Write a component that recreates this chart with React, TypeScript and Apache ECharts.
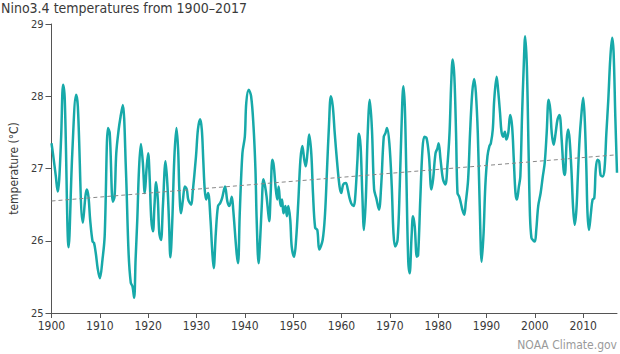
import React, { useEffect, useRef } from "react";
import * as echarts from "echarts";

const years = [
  1900.0, 1900.3, 1900.9, 1901.3, 1901.6, 1902.0, 1902.4, 1902.75, 1903.55, 1904.3,
  1905.1, 1905.45, 1906.5, 1907.3, 1907.65, 1908.0, 1908.5, 1908.8, 1909.2, 1909.55,
  1910.0, 1910.55, 1911.0, 1911.7, 1912.05, 1912.7, 1913.05, 1913.4, 1913.9, 1914.3,
  1914.75, 1915.4, 1915.95, 1916.4, 1916.75, 1917.1, 1917.4, 1917.75, 1918.1, 1918.5,
  1918.9, 1919.3, 1919.65, 1920.0, 1920.3, 1920.65, 1921.0, 1921.3, 1921.65, 1922.0,
  1922.3, 1922.65, 1923.05, 1923.6, 1924.0, 1924.3, 1924.6, 1925.0, 1925.4, 1925.85,
  1926.2, 1926.45, 1926.8, 1927.2, 1927.6, 1928.0, 1928.3, 1928.9, 1929.2, 1929.9,
  1930.3, 1930.75, 1931.1, 1931.4, 1931.7, 1932.0, 1932.4, 1932.9, 1933.2, 1933.55,
  1934.0, 1934.45, 1934.9, 1935.3, 1935.9, 1936.4, 1936.8, 1937.3, 1937.6, 1938.3,
  1938.6, 1938.95, 1939.5, 1940.0, 1940.3, 1940.8, 1941.3, 1941.8, 1942.2, 1942.45,
  1942.85, 1943.2, 1943.5, 1943.85, 1944.2, 1944.5, 1944.85, 1945.05, 1945.35, 1945.7,
  1946.0, 1946.35, 1946.7, 1947.0, 1947.4, 1947.7, 1948.0, 1948.4, 1948.7, 1949.0,
  1949.4, 1949.7, 1950.2, 1950.6, 1951.05, 1951.5, 1951.9, 1952.3, 1952.6, 1952.95,
  1953.3, 1953.75, 1954.1, 1954.55, 1955.0, 1955.4, 1956.1, 1956.6, 1957.0, 1957.4,
  1957.8, 1958.2, 1958.6, 1959.1, 1959.6, 1959.95, 1960.35, 1960.9, 1961.3, 1961.6,
  1962.0, 1962.5, 1962.8, 1963.3, 1963.6, 1963.95, 1964.3, 1964.65, 1965.05, 1965.4,
  1965.85, 1966.3, 1966.75, 1967.2, 1967.75, 1968.2, 1968.75, 1969.1, 1969.4, 1969.9,
  1970.4, 1970.75, 1971.1, 1971.6, 1972.05, 1972.4, 1972.8, 1973.1, 1973.4, 1973.8,
  1974.1, 1974.5, 1974.8, 1975.15, 1975.6, 1975.85, 1976.3, 1976.75, 1977.15, 1977.6,
  1978.1, 1978.6, 1978.95, 1979.45, 1979.85, 1980.1, 1980.5, 1981.0, 1981.5, 1981.9,
  1982.35, 1982.7, 1983.0, 1983.35, 1983.7, 1984.0, 1984.35, 1984.7, 1985.0, 1985.4,
  1985.7, 1986.2, 1986.6, 1987.05, 1987.45, 1987.8, 1988.2, 1988.6, 1989.0, 1989.4,
  1989.75, 1990.2, 1990.6, 1990.9, 1991.3, 1991.6, 1992.1, 1992.4, 1992.8, 1993.1,
  1993.45, 1993.8, 1994.1, 1994.5, 1994.9, 1995.3, 1995.65, 1996.0, 1996.3, 1996.7,
  1997.0, 1997.35, 1997.7, 1998.0, 1998.35, 1998.7, 1999.0, 1999.3, 1999.6, 2000.0,
  2000.3, 2000.7, 2001.2, 2001.65, 2002.05, 2002.45, 2002.85, 2003.2, 2003.5, 2003.9,
  2004.3, 2004.7, 2005.1, 2005.55, 2005.95, 2006.2, 2006.6, 2006.9, 2007.2, 2007.6,
  2007.9, 2008.25, 2008.6, 2008.9, 2009.25, 2009.6, 2010.0, 2010.3, 2010.65, 2010.9,
  2011.2, 2011.6, 2011.95, 2012.3, 2012.6, 2012.95, 2013.3, 2013.6, 2014.0, 2014.4,
  2014.8, 2015.2, 2015.6, 2016.0, 2016.3, 2016.65, 2017.0,
];

const temps = [
  27.35, 27.21, 26.89, 26.68, 26.85, 27.44, 28.16, 27.95, 25.91, 27.21,
  28.02, 27.86, 26.25, 26.71, 26.61, 26.29, 25.99, 25.97, 25.81, 25.62,
  25.48, 25.74, 26.06, 27.56, 27.49, 26.54, 26.61, 27.21, 27.54, 27.72,
  27.88, 26.98, 25.83, 25.42, 25.37, 25.21, 25.74, 26.29, 26.98, 27.34,
  27.08, 26.66, 26.98, 27.21, 26.89, 26.29, 26.13, 26.48, 26.81, 26.57,
  26.11, 26.01, 26.48, 27.10, 26.75, 26.29, 25.77, 26.29, 27.12, 27.56,
  27.26, 26.71, 26.38, 26.57, 26.75, 26.71, 26.57, 26.50, 26.66, 27.17,
  27.54, 27.68, 27.54, 27.12, 26.71, 26.57, 26.66, 26.29, 25.92, 25.62,
  26.11, 26.48, 26.52, 26.59, 26.75, 26.54, 26.48, 26.61, 26.43, 25.83,
  25.69, 26.38, 27.21, 27.44, 27.91, 28.09, 28.0, 27.58, 26.98, 26.29,
  25.69, 26.06, 26.48, 26.85, 26.75, 26.61, 26.38, 26.27, 26.66, 27.12,
  27.03, 26.75, 26.57, 26.75, 26.48, 26.57, 26.38, 26.48, 26.34, 26.48,
  26.29, 25.92, 25.78, 26.01, 26.52, 27.12, 27.31, 27.12, 27.03, 27.21,
  27.47, 27.21, 26.66, 26.18, 26.15, 25.88, 26.01, 26.38, 26.98, 27.58,
  28.0, 27.86, 27.49, 27.08, 26.75, 26.66, 26.78, 26.80, 26.71, 26.61,
  26.52, 26.48, 26.57, 27.12, 27.48, 27.31, 26.66, 26.15, 26.61, 27.44,
  27.95, 27.54, 26.71, 26.59, 26.43, 26.75, 27.44, 27.49, 27.56, 27.35,
  26.75, 26.11, 25.92, 26.01, 26.75, 27.54, 28.14, 27.86, 26.98, 25.74,
  25.55, 26.06, 26.34, 26.20, 25.78, 25.80, 26.57, 27.26, 27.44, 27.42,
  27.17, 26.71, 26.85, 27.21, 27.28, 27.35, 27.12, 26.85, 26.78, 27.03,
  27.49, 28.18, 28.51, 28.27, 27.49, 26.66, 26.61, 26.52, 26.43, 26.36,
  26.52, 26.85, 27.49, 28.05, 28.24, 28.05, 27.49, 26.48, 25.71, 26.11,
  26.75, 27.17, 27.31, 27.35, 27.54, 27.95, 28.27, 28.09, 27.77, 27.51,
  27.44, 27.51, 27.40, 27.49, 27.74, 27.58, 27.12, 26.66, 26.57, 26.75,
  26.89, 27.72, 28.41, 28.83, 28.41, 27.26, 26.34, 26.04, 26.01, 25.99,
  26.15, 26.48, 26.66, 26.89, 27.08, 27.49, 27.95, 27.81, 27.49, 27.33,
  27.49, 27.68, 27.74, 27.40, 26.98, 26.91, 27.40, 27.54, 27.40, 26.94,
  26.48, 26.22, 26.43, 26.89, 27.40, 27.72, 27.98, 27.72, 27.03, 26.38,
  26.15, 26.38, 26.57, 26.59, 26.98, 27.12, 27.10, 26.91, 26.89, 26.98,
  27.49, 27.95, 28.51, 28.81, 28.60, 27.72, 26.94,
];

const trendYears = [1900, 2017];
const trendTemps = [26.55, 27.19];

const titleText = "Nino3.4 temperatures from 1900\u20132017";
const yAxisName = "temperature (\u00b0C)";
const creditText = "NOAA Climate.gov";

const FONT = '"DejaVu Sans Condensed", "Open Sans", sans-serif';

export default function App() {
  const ref = useRef<HTMLDivElement>(null);

  useEffect(() => {
    document.body.style.margin = "0";
    if (!ref.current) return;
    const chart = echarts.init(ref.current, null, { renderer: "svg" });
    const lineData = years.map((y, i) => [y, temps[i]]);
    const trendData = trendYears.map((y, i) => [y, trendTemps[i]]);
    chart.setOption({
      animation: false,
      backgroundColor: "#ffffff",
      textStyle: { fontFamily: FONT },
      title: {
        text: titleText,
        left: 1,
        top: 1,
        padding: 0,
        textStyle: {
          fontFamily: FONT,
          fontSize: 14,
          fontWeight: "normal",
          color: "#3a3a3a",
        },
      },
      grid: {
        left: 37,
        right: 3,
        top: 24,
        bottom: 41,
        containLabel: false,
      },
      xAxis: {
        type: "value",
        min: 1900,
        max: 2017,
        interval: 10,
        axisLine: { show: true, lineStyle: { color: "#555", width: 1 } },
        axisTick: { show: true, length: 5, lineStyle: { color: "#555" } },
        axisLabel: {
          fontFamily: FONT,
          fontSize: 12,
          color: "#3a3a3a",
          margin: 7,
          showMaxLabel: false,
          formatter: (v: number) => String(v),
        },
        splitLine: { show: false },
      },
      yAxis: {
        type: "value",
        min: 25,
        max: 29,
        interval: 1,
        name: yAxisName,
        nameLocation: "middle",
        nameGap: 24,
        nameTextStyle: { fontFamily: FONT, fontSize: 12, color: "#3a3a3a" },
        axisLine: { show: true, lineStyle: { color: "#555", width: 1 } },
        axisTick: { show: true, length: 6, lineStyle: { color: "#555" } },
        axisLabel: {
          fontFamily: FONT,
          fontSize: 11,
          color: "#3a3a3a",
          margin: 8,
        },
        splitLine: { show: false },
      },
      graphic: [
        {
          type: "text",
          right: 3,
          bottom: 3,
          style: {
            text: creditText,
            fill: "#9a9a9a",
            font: `12px ${FONT}`,
          },
        },
      ],
      series: [
        {
          type: "line",
          data: lineData,
          smooth: 0.35,
          showSymbol: false,
          symbol: "none",
          lineStyle: { color: "#17a9a9", width: 2.5 },
          z: 2,
        },
        {
          type: "line",
          data: trendData,
          showSymbol: false,
          symbol: "none",
          lineStyle: { color: "#888", width: 1, type: [4, 3] },
          z: 3,
        },
      ],
    });
    return () => chart.dispose();
  }, []);

  return <div ref={ref} style={{ width: 620, height: 354 }} />;
}
